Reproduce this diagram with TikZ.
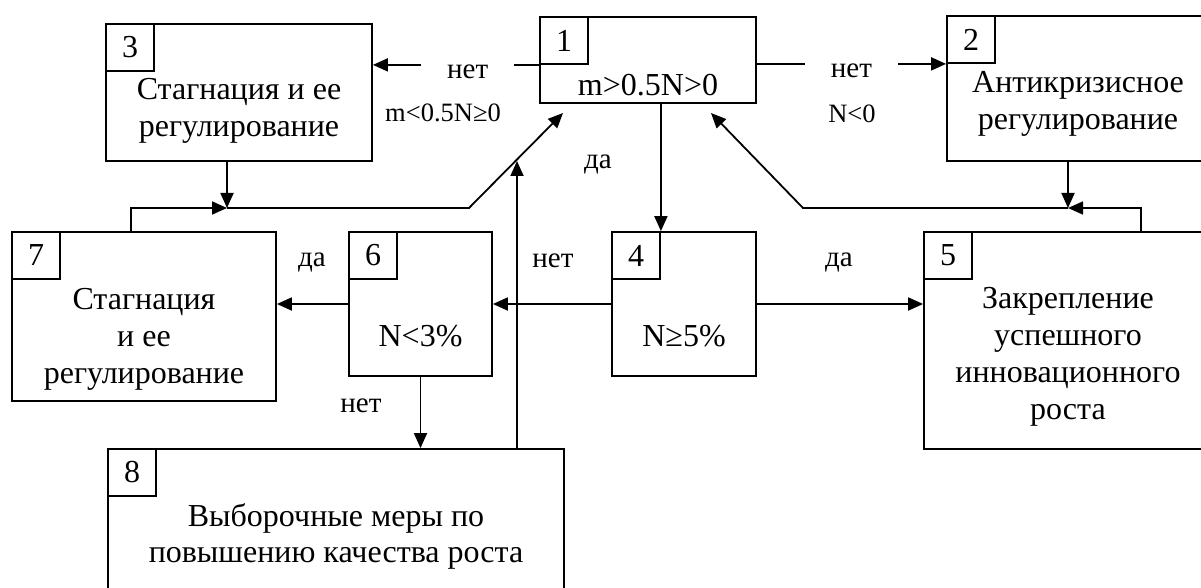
\documentclass[tikz,border=0pt]{standalone}
\usepackage{fontspec}
\setmainfont{Liberation Serif}
\usetikzlibrary{arrows.meta}
\newcommand\bigtxt{\fontsize{32}{36.8}\selectfont}
\newcommand\lbltxt{\fontsize{29}{31}\selectfont}
\newcommand\condtxt{\fontsize{26.5}{31}\selectfont}
\begin{document}
\begin{tikzpicture}[x=1pt,y=-1pt,line width=1.8pt,>={Triangle[length=15pt,width=13pt]},
 box/.style={draw,inner sep=0pt},
 num/.style={draw,anchor=north west,minimum width=48pt,minimum height=47pt,inner sep=0pt,font=\bigtxt},
 txt/.style={align=center,inner sep=0pt,font=\bigtxt},
 lbl/.style={inner sep=0pt,font=\lbltxt},
 cond/.style={inner sep=0pt,font=\condtxt},
 gap/.style={lbl,fill=white,inner xsep=26pt,inner ysep=5pt,yshift=-7pt}]
 \useasboundingbox (0,0) rectangle (1201,588);
 \clip (0,0) rectangle (1201,588);
 \node[box,minimum width=216pt,minimum height=86pt] (b1) at (648,60) {};
 \node[box,minimum width=262pt,minimum height=145pt] (b2) at (1078,88.5) {};
 \node[box,minimum width=266pt,minimum height=137pt] (b3) at (239,92.5) {};
 \node[box,minimum width=144pt,minimum height=144pt] (b4) at (684,304) {};
 \node[box,minimum width=288pt,minimum height=217pt] (b5) at (1068,340.5) {};
 \node[box,minimum width=143pt,minimum height=144pt] (b6) at (420.5,304) {};
 \node[box,minimum width=264pt,minimum height=169pt] (b7) at (144,316.5) {};
 \node[box,minimum width=456pt,minimum height=171pt] (b8) at (336,534.5) {};
 \foreach \i in {1,...,8}
 \node[num] (n\i) at (b\i.north west) {\i};

 \node[txt] (t1) at (648,85.5) {m>0.5N>0};
 \node[txt] (t2) at (1078,104) {Антикризисное\\регулирование};
 \node[txt] (t3) at (239,111) {Стагнация и ее\\регулирование};
 \node[txt] (t4) at (684,336) {N≥5\%};
 \node[txt] (t5) at (1068,357) {Закрепление\\успешного\\инновационного\\роста};
 \node[txt] (t6) at (420.5,336) {N<3\%};
 \node[txt] (t7) at (144,339.5) {Стагнация\\и ее\\регулирование};
 \node[txt] (t8) at (336,536.5) {Выборочные меры по\\повышению качества роста};

 \node[cond] (c3) at (443,113) {m<0.5N≥0};
 \node[cond] (c2) at (852,114) {N<0};
 \node[lbl] (y14) at (598,165) {да};
 \node[lbl] (y67) at (312,262) {да};
 \node[lbl] (x48) at (553,261) {нет};
 \node[lbl] (y45) at (839,262) {да};
 \node[lbl] (x68) at (361,406) {нет};

 \coordinate (j3) at (227,208);
 \coordinate (j2) at (1068,208);
 \coordinate (k3) at (469,208);
 \coordinate (k2) at (803,208);
 \coordinate (a3) at (563,113);
 \coordinate (a2) at (711,113);
 \coordinate (a8) at (517,161);

 \draw[->] (n1.south west) -- node[gap,pos=.43] (x13) {нет} (b3.east |- n1.south west);
 \draw[->] (b1.east |- n2.south west) -- node[gap] (x12) {нет} (n2.south west);
 \foreach \from/\to in
{b1.south -| n4.north east/n4.north east,b4.west/b6.east,b6.west/b7.east |- b6.west,b4.east/b5.west |- b4.east,b6.south/b8.north -| b6.south,b3.south -| j3/j3,b2.south -| j2/j2,b8.north -| a8/a8}
 \draw[->] (\from) -- (\to);
 \draw[->] ([xshift=120pt]b7.north west) |- (j3);
 \draw[->] ([xshift=-72pt]b5.north east) |- (j2);
 \draw[->] (j3) -- (k3) -- (a3);
 \draw[->] (j2) -- (k2) -- (a2);
\end{tikzpicture}
\end{document}
